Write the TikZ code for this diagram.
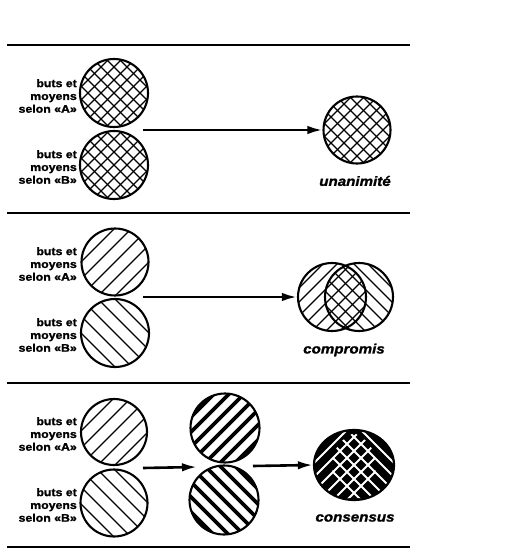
\documentclass[tikz,border=0pt]{standalone}
\usepackage{fontspec}
\setmainfont{Liberation Sans}
\newfontfamily\lblfont{Liberation Sans}[FakeStretch=1.12,FakeBold=1.4]
\usetikzlibrary{arrows.meta,shapes.geometric}
\begin{document}
\begin{tikzpicture}[x=1pt,y=-1pt,
  rule/.style={line width=1.9pt},
  disc/.style={circle, draw, line width=2.1pt, minimum size=#1, inner sep=0pt},
  oval/.style={ellipse, draw, line width=2.2pt, inner sep=0pt},
  lbl/.style={anchor=east, align=right, inner sep=0pt,
     font=\fontsize{11}{12.8}\lblfont\bfseries},
  res/.style={inner sep=0pt, font=\fontsize{13.5}{15}\lblfont\bfseries\itshape},
  arr/.style={line width=2.6pt, -{Latex[length=15pt,width=8.5pt]}},
  hatchR/.style 2 args={path picture={\foreach \k in {-7,...,7}{\draw[line width=#1] ([shift={(\k*#2-60,60)}]path picture bounding box.center) -- ++(120,-120);}}},
  hatchL/.style 2 args={path picture={\foreach \k in {-7,...,7}{\draw[line width=#1] ([shift={(\k*#2-60,-60)}]path picture bounding box.center) -- ++(120,120);}}},
  cross/.style={path picture={\foreach \k in {-8,...,8}{\draw[line width=1.3pt] ([shift={(\k*13-60,60)}]path picture bounding box.center) -- ++(120,-120); \draw[line width=1.3pt] ([shift={(\k*13-60,-60)}]path picture bounding box.center) -- ++(120,120);}}}
]
\useasboundingbox (0,0) rectangle (514,549);
% rules
\coordinate (r1a) at (7,45);  \coordinate (r1b) at (410,45);
\coordinate (r2a) at (7,213); \coordinate (r2b) at (410,213);
\coordinate (r3a) at (7,383); \coordinate (r3b) at (410,383);
\coordinate (r4a) at (7,547); \coordinate (r4b) at (410,547);
\draw[rule] (r1a) -- (r1b);
\draw[rule] (r2a) -- (r2b);
\draw[rule] (r3a) -- (r3b);
\draw[rule] (r4a) -- (r4b);

% ---- section 1: unanimite
\node[disc=68pt, cross] (a1) at (114,93) {};
\node[disc=68pt, cross] (b1) at (114,165) {};
\node[lbl] (la1) at (77,96) {buts et\\moyens\\selon «A»};
\node[lbl] (lb1) at (77,167) {buts et\\moyens\\selon «B»};
\node[disc=67pt, cross] (u1) at (357,130) {};
\node[res] (t1) at (355,181) {unanimité};
\coordinate (s1) at (143,130);
\draw[arr] (s1) -- (u1.west);

% ---- section 2: compromis
\node[disc=67pt, hatchR={1.1pt}{17}] (a2) at (115,262) {};
\node[disc=68pt, hatchL={1.1pt}{17}] (b2) at (115,333) {};
\node[lbl] (la2) at (77,264) {buts et\\moyens\\selon «A»};
\node[lbl] (lb2) at (77,335) {buts et\\moyens\\selon «B»};
\node[disc=68pt, hatchR={1.3pt}{14}] (c2l) at (332,297) {};
\node[disc=68pt, hatchL={1.3pt}{14}] (c2r) at (359,297) {};
\node[res] (t2) at (344,350) {compromis};
\coordinate (s2) at (143,297);
\draw[arr] (s2) -- (c2l.west);

% ---- section 3: consensus
\node[disc=66pt, hatchR={1.1pt}{17}] (a3) at (114,432) {};
\node[disc=67pt, hatchL={1.1pt}{17}] (b3) at (114,503) {};
\node[lbl] (la3) at (77,434) {buts et\\moyens\\selon «A»};
\node[lbl] (lb3) at (77,505) {buts et\\moyens\\selon «B»};
\node[disc=69pt, hatchR={3.6pt}{15}] (m3a) at (225,428) {};
\node[disc=69pt, hatchL={3.6pt}{15}] (m3b) at (224,500) {};
\node[oval, minimum width=80pt, minimum height=70pt, fill=black,
  path picture={
    \begin{scope}
      \clip ([shift={(-12,0)}]path picture bounding box.center) circle (34pt);
      \foreach \k in {-7,...,7}{
        \draw[white, line width=1.8pt] ([shift={(\k*14-60,60)}]path picture bounding box.center) -- ++(120,-120);}
    \end{scope}
    \begin{scope}
      \clip ([shift={(12,0)}]path picture bounding box.center) circle (34pt);
      \foreach \k in {-7,...,7}{
        \draw[white, line width=1.8pt] ([shift={(\k*14-60,-60)}]path picture bounding box.center) -- ++(120,120);}
    \end{scope}
  }] (c3) at (354,465) {};
\node[res] (t3) at (355,518) {consensus};
\coordinate (s3) at (143,468);
\coordinate (e3) at (197,467);
\coordinate (s4) at (253,466);
\draw[arr] (s3) -- (e3);
\draw[arr] (s4) -- (c3.west);
\end{tikzpicture}
\end{document}
